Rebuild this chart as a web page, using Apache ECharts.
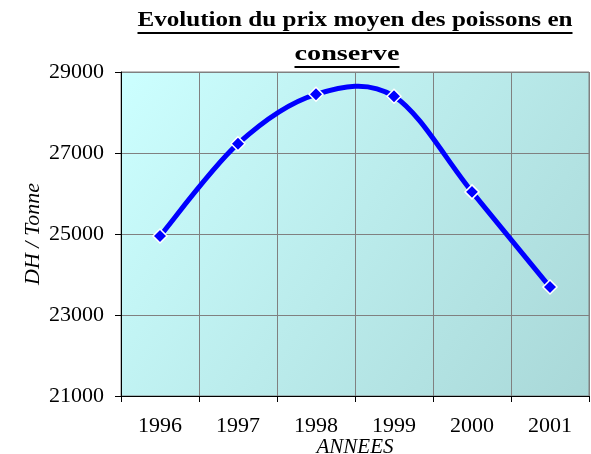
<!DOCTYPE html>
<html><head><meta charset="utf-8">
<script src="https://cdn.jsdelivr.net/npm/echarts@6/dist/echarts.min.js"></script>
<style>html,body{margin:0;padding:0;background:#fff}#c{width:591px;height:454px}</style>
</head><body><div id="c"></div>
<script>
var years = ['1996','1997','1998','1999','2000','2001'];
var prices = [24950, 27230, 28450, 28400, 26040, 23690];
var yTicks = [21000, 23000, 25000, 27000, 29000];
var titleLines = ['Evolution du prix moyen des poissons en', 'conserve'];
var yName = 'DH / Tonne';
var xName = 'ANNEES';

var serif = 'Liberation Serif';
var titleFont = 'bold 20px "Liberation Serif"';
var cv = document.createElement('canvas').getContext('2d');
cv.font = titleFont;
var titleCenters = [355, 347];
var titleWidths = [435, 105];
var lineYs = [21, 55];
var graphics = [];
titleLines.forEach(function (t, i) {
  var w = cv.measureText(t).width;
  var sx = titleWidths[i] / w;
  graphics.push({type:'text', x: titleCenters[i], y: lineYs[i], scaleX: sx,
    style:{text:t, fontFamily:serif, fontWeight:'bold', fontSize:20, fill:'#000', align:'center', verticalAlign:'middle'}});
  graphics.push({type:'line', shape:{x1:titleCenters[i]-titleWidths[i]/2, y1:lineYs[i]+12, x2:titleCenters[i]+titleWidths[i]/2, y2:lineYs[i]+12},
    style:{stroke:'#000', lineWidth:2}});
});

function smoothSegment(params, api) {
  var i = params.dataIndex;
  var n = prices.length;
  if (i >= n - 1) return null;
  var p = function (k) { k = Math.max(0, Math.min(n - 1, k)); return api.coord([k, prices[k]]); };
  var p0 = p(i - 1), p1 = p(i), p2 = p(i + 1), p3 = p(i + 2);
  var t = 1 / 6;
  return {
    type:'bezierCurve',
    shape:{x1:p1[0], y1:p1[1], x2:p2[0], y2:p2[1],
      cpx1:p1[0] + (p2[0] - p0[0]) * t, cpy1:p1[1] + (p2[1] - p0[1]) * t,
      cpx2:p2[0] - (p3[0] - p1[0]) * t, cpy2:p2[1] - (p3[1] - p1[1]) * t},
    style:{stroke:'#0000FF', lineWidth:5, fill:null, lineCap:'round'}
  };
}

var chart = echarts.init(document.getElementById('c'));
chart.setOption({
  animation:false,
  graphic: graphics,
  grid:{left:121, right:2, top:72, bottom:58, show:true, borderColor:'#808080', borderWidth:1,
    outerBoundsMode:'none', containLabel:false,
    backgroundColor:{type:'linear', x:0, y:0, x2:1, y2:1, colorStops:[{offset:0,color:'#CCFFFF'},{offset:1,color:'#A9D8D8'}]}},
  xAxis:{type:'category', data:years, boundaryGap:true,
    name:xName, nameLocation:'middle', nameGap:41, nameMoveOverlap:false,
    nameTextStyle:{fontFamily:serif, fontStyle:'italic', fontSize:21, color:'#000'},
    axisLine:{lineStyle:{color:'#000', width:1}},
    axisTick:{show:true, inside:false, length:6, lineStyle:{color:'#000'}},
    axisLabel:{fontFamily:serif, fontSize:22, color:'#000', margin:19},
    splitLine:{show:true, lineStyle:{color:'#808080', width:1}}},
  yAxis:{type:'value', min:yTicks[0], max:yTicks[yTicks.length-1], interval:2000,
    name:yName, nameLocation:'middle', nameGap:77, nameRotate:90, nameMoveOverlap:false,
    nameTextStyle:{fontFamily:serif, fontStyle:'italic', fontSize:22, color:'#000'},
    axisLine:{show:true, lineStyle:{color:'#000', width:1}},
    axisTick:{show:true, length:6, lineStyle:{color:'#000'}},
    axisLabel:{fontFamily:serif, fontSize:22, color:'#000', margin:17, formatter:function (v) { return String(v); }},
    splitLine:{show:true, lineStyle:{color:'#808080', width:1}}},
  series:[
    {type:'custom', data:prices, renderItem:smoothSegment, z:2, silent:true},
    {type:'line', data:prices, z:3,
      lineStyle:{opacity:0, width:0},
      symbol:'diamond', symbolSize:14,
      itemStyle:{color:'#0000FF', borderColor:'#fff', borderWidth:1.5}}
  ]
});
</script></body></html>
